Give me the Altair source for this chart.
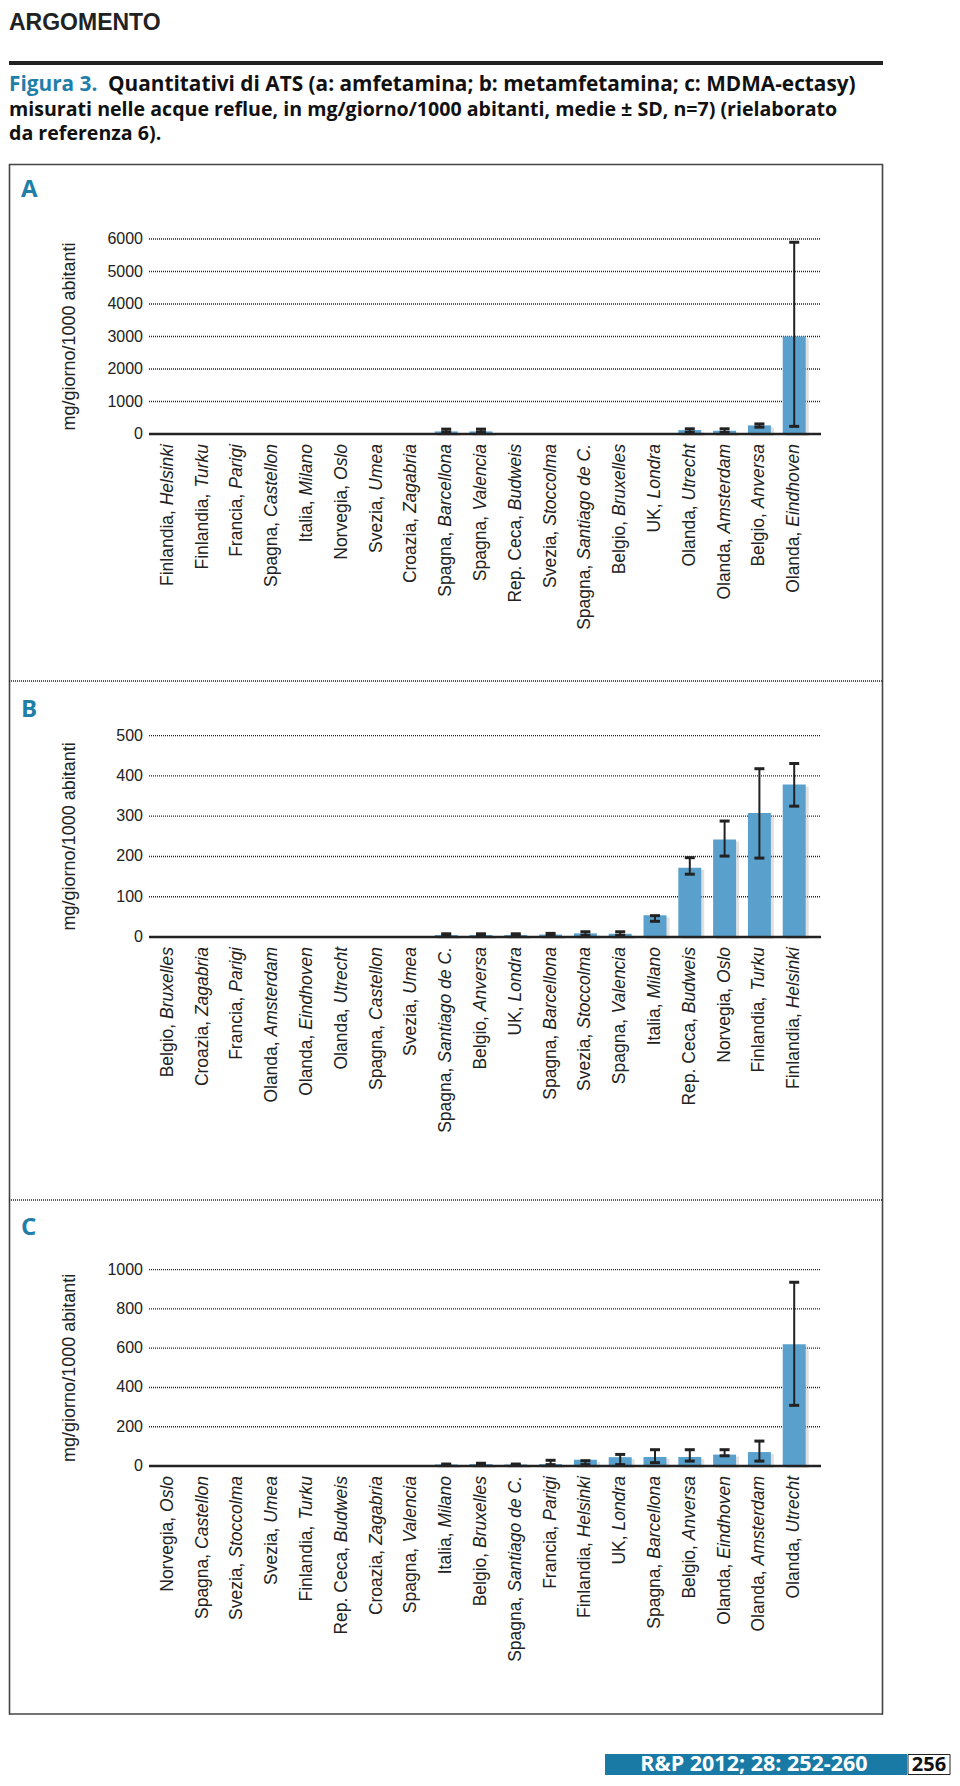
import altair as alt
import pandas as pd

# ---------------- data ----------------
A_COUNTRY = ["Finlandia", "Finlandia", "Francia", "Spagna", "Italia", "Norvegia", "Svezia",
             "Croazia", "Spagna", "Spagna", "Rep. Ceca", "Svezia", "Spagna", "Belgio", "UK",
             "Olanda", "Olanda", "Belgio", "Olanda"]
A_CITY = ["Helsinki", "Turku", "Parigi", "Castellon", "Milano", "Oslo", "Umea", "Zagabria",
          "Barcellona", "Valencia", "Budweis", "Stoccolma", "Santiago de C.", "Bruxelles",
          "Londra", "Utrecht", "Amsterdam", "Anversa", "Eindhoven"]
A_MEAN = [0, 0, 0, 0, 0, 0, 0, 0, 80, 80, 0, 0, 0, 0, 0, 120, 100, 265, 3000]
A_LOW = [0, 0, 0, 0, 0, 0, 0, 0, 60, 60, 0, 0, 0, 0, 0, 50, 50, 210, 235]
A_HIGH = [0, 0, 0, 0, 0, 0, 0, 0, 150, 150, 0, 0, 0, 0, 0, 160, 160, 310, 5900]

B_COUNTRY = ["Belgio", "Croazia", "Francia", "Olanda", "Olanda", "Olanda", "Spagna", "Svezia",
             "Spagna", "Belgio", "UK", "Spagna", "Svezia", "Spagna", "Italia", "Rep. Ceca",
             "Norvegia", "Finlandia", "Finlandia"]
B_CITY = ["Bruxelles", "Zagabria", "Parigi", "Amsterdam", "Eindhoven", "Utrecht", "Castellon",
          "Umea", "Santiago de C.", "Anversa", "Londra", "Barcellona", "Stoccolma", "Valencia",
          "Milano", "Budweis", "Oslo", "Turku", "Helsinki"]
B_MEAN = [0, 0, 0, 0, 0, 0, 0, 0, 5, 5, 5, 6, 9, 8, 54, 172, 242, 308, 379]
B_LOW = [0, 0, 0, 0, 0, 0, 0, 0, 3, 3, 3, 3, 4, 4, 39, 156, 201, 196, 325]
B_HIGH = [0, 0, 0, 0, 0, 0, 0, 0, 8, 8, 8, 9, 13, 13, 53, 197, 288, 418, 431]

C_COUNTRY = ["Norvegia", "Spagna", "Svezia", "Svezia", "Finlandia", "Rep. Ceca", "Croazia",
             "Spagna", "Italia", "Belgio", "Spagna", "Francia", "Finlandia", "UK", "Spagna",
             "Belgio", "Olanda", "Olanda", "Olanda"]
C_CITY = ["Oslo", "Castellon", "Stoccolma", "Umea", "Turku", "Budweis", "Zagabria", "Valencia",
          "Milano", "Bruxelles", "Santiago de C.", "Parigi", "Helsinki", "Londra", "Barcellona",
          "Anversa", "Eindhoven", "Amsterdam", "Utrecht"]
C_MEAN = [0, 0, 0, 0, 0, 0, 0, 0, 8, 10, 8, 10, 32, 45, 46, 46, 58, 71, 620]
C_LOW = [0, 0, 0, 0, 0, 0, 0, 0, 3, 4, 3, 7, 7, 7, 17, 25, 52, 25, 309]
C_HIGH = [0, 0, 0, 0, 0, 0, 0, 0, 10, 14, 10, 29, 27, 59, 83, 83, 83, 127, 936]

Y_TITLE = "mg/giorno/1000 abitanti"

# ---------------- styling / layout ----------------
M = 8
W, H = 944, 1770


def P(v):
    return v - M


FONT = "Liberation Sans, Arial, sans-serif"
HFONT = "Open Sans, Liberation Sans, sans-serif"
TEAL = "#1f7fa8"
BAR = "#5aa0cd"
INK = "#222222"
LFS = 17.5      # category label font size
LAB_GAP = 10    # gap between baseline and labels
X0, X1 = 150.4, 811.6
GX0, GX1 = 149, 821

# Liberation Sans (Arial-compatible) advance widths, units per 2048 em
AW = {' ': 569, ',': 569, '.': 569,
      'A': 1366, 'B': 1366, 'C': 1479, 'D': 1479, 'E': 1366, 'F': 1251, 'G': 1593, 'H': 1479,
      'I': 569, 'J': 1024, 'K': 1366, 'L': 1139, 'M': 1706, 'N': 1479, 'O': 1593, 'P': 1366,
      'Q': 1593, 'R': 1479, 'S': 1366, 'T': 1251, 'U': 1479, 'V': 1366, 'W': 1933, 'X': 1366,
      'Y': 1366, 'Z': 1251,
      'a': 1139, 'b': 1139, 'c': 1024, 'd': 1139, 'e': 1139, 'f': 569, 'g': 1139, 'h': 1139,
      'i': 455, 'j': 455, 'k': 1024, 'l': 455, 'm': 1706, 'n': 1139, 'o': 1139, 'p': 1139,
      'q': 1139, 'r': 682, 's': 1024, 't': 569, 'u': 1139, 'v': 1024, 'w': 1479, 'x': 1024,
      'y': 1024, 'z': 1024}


def text_w(s, fs):
    return sum(AW.get(ch, 1139) for ch in s) / 2048.0 * fs


ONE = pd.DataFrame({"d": [0]})


def txt(text, x, y, size, color=INK, weight="normal", font=HFONT, align="left",
        baseline="alphabetic"):
    return alt.Chart(ONE).mark_text(
        text=text, align=align, baseline=baseline, fontSize=size, fontWeight=weight,
        font=font, color=color
    ).encode(x=alt.value(P(x)), y=alt.value(P(y)))


def hline(x1, x2, y, width, color, dash=None):
    kw = dict(color=color, strokeWidth=width)
    if dash:
        kw["strokeDash"] = dash
    return alt.Chart(ONE).mark_rule(**kw).encode(
        x=alt.value(P(x1)), x2=alt.value(P(x2)), y=alt.value(P(y)))


def vline(x, y1, y2, width, color):
    return alt.Chart(ONE).mark_rule(color=color, strokeWidth=width).encode(
        x=alt.value(P(x)), y=alt.value(P(y1)), y2=alt.value(P(y2)))


def panel(country, city, mean, low, high, ymax, step, y0, y1):
    keys = [f"{c}, {t}" for c, t in zip(country, city)]
    lab_y = P(y0 + LAB_GAP)
    df = pd.DataFrame({
        "key": keys,
        "country": [c + "," for c in country],
        "city": city,
        "mean": mean, "lo": low, "hi": high,
        "ly": [lab_y + text_w(t, LFS) + text_w(" ", LFS) for t in city],
    })
    xs = alt.Scale(domain=keys, range=[P(X0), P(X1)], paddingInner=0.34, paddingOuter=0.17)
    ys = alt.Scale(domain=[0, ymax], range=[P(y0), P(y1)], nice=False, zero=True)
    X = alt.X("key:N", scale=xs, axis=None, sort=None)
    ticks = list(range(0, ymax + 1, step))
    tdf = pd.DataFrame({"t": ticks, "lbl": [str(t) for t in ticks]})
    base = alt.Chart(df)

    grid = alt.Chart(tdf).transform_filter("datum.t > 0").mark_rule(
        color="#222222", strokeWidth=1.3, strokeDash=[1, 1]
    ).encode(y=alt.Y("t:Q", scale=ys, axis=None),
             x=alt.value(P(GX0)), x2=alt.value(P(GX1)))
    shadow = base.transform_filter("datum.mean > 0").mark_bar(
        color="#9a9a9a", opacity=0.3, xOffset=3, yOffset=2
    ).encode(x=X, y=alt.Y("mean:Q", scale=ys, axis=None))
    bars = base.transform_filter("datum.mean > 0").mark_bar(color=BAR).encode(
        x=X, y=alt.Y("mean:Q", scale=ys, axis=None))
    err = base.transform_filter("datum.hi > 0").mark_rule(color=INK, strokeWidth=2).encode(
        x=X, y=alt.Y("lo:Q", scale=ys, axis=None), y2="hi:Q")
    cap_hi = base.transform_filter("datum.hi > 0").mark_tick(
        color=INK, thickness=3, size=10, opacity=1).encode(
        x=X, y=alt.Y("hi:Q", scale=ys, axis=None))
    cap_lo = base.transform_filter("datum.hi > 0").mark_tick(
        color=INK, thickness=3, size=10, opacity=1).encode(
        x=X, y=alt.Y("lo:Q", scale=ys, axis=None))
    zero = alt.Chart(pd.DataFrame({"z": [0]})).mark_rule(color=INK, strokeWidth=2.5).encode(
        y=alt.Y("z:Q", scale=ys, axis=None), x=alt.value(P(GX0)), x2=alt.value(P(GX1)))
    tlab = alt.Chart(tdf).mark_text(
        align="right", baseline="middle", fontSize=16, font=FONT, color=INK
    ).encode(y=alt.Y("t:Q", scale=ys, axis=None), x=alt.value(P(143)), text="lbl:N")
    title = alt.Chart(pd.DataFrame({"mid": [ymax / 2]})).mark_text(
        text=Y_TITLE, angle=270, align="center", baseline="middle", fontSize=18,
        font=FONT, color=INK
    ).encode(y=alt.Y("mid:Q", scale=ys, axis=None), x=alt.value(P(70)))
    lab_city = base.mark_text(
        angle=270, align="right", baseline="middle", fontSize=LFS, font=FONT,
        fontStyle="italic", color=INK
    ).encode(x=X, y=alt.value(lab_y), text="city:N")
    lab_country = base.mark_text(
        angle=270, align="right", baseline="middle", fontSize=LFS, font=FONT, color=INK
    ).encode(x=X, y=alt.Y("ly:Q", scale=None, axis=None), text="country:N")
    return [grid, shadow, bars, err, cap_hi, cap_lo, zero, tlab, title, lab_city, lab_country]


layers = []
# header
layers.append(txt("ARGOMENTO", 9, 11.5, 23, weight="bold", color="#222222",
                  baseline="top", font=FONT))
layers.append(hline(9, 883, 63, 4, "#222222"))
layers.append(txt("Figura 3.", 9, 91, 20.8, color=TEAL, weight="bold"))
layers.append(txt("Quantitativi di ATS (a: amfetamina; b: metamfetamina; c: MDMA-ectasy)",
                  108, 91, 20.8, color="#111111", weight="bold"))
layers.append(txt("misurati nelle acque reflue, in mg/giorno/1000 abitanti, medie ± SD, n=7) (rielaborato",
                  9, 115.5, 19.6, color="#111111", weight="bold"))
layers.append(txt("da referenza 6).", 9, 140, 19.6, color="#111111", weight="bold"))

# frame and separators
layers.append(hline(9, 883, 164.5, 1.6, "#444444"))
layers.append(hline(9, 883, 1714, 1.6, "#444444"))
layers.append(vline(9.5, 164, 1714.5, 1.6, "#444444"))
layers.append(vline(882.5, 164, 1714.5, 1.6, "#444444"))
layers.append(hline(9, 883, 681, 1.3, "#222222", dash=[1, 1]))
layers.append(hline(9, 883, 1200, 1.3, "#222222", dash=[1, 1]))

# panel letters
layers.append(txt("A", 21, 197, 24, color=TEAL, weight="bold"))
layers.append(txt("B", 21, 717, 24, color=TEAL, weight="bold"))
layers.append(txt("C", 21, 1235, 24, color=TEAL, weight="bold"))

# panels
layers += panel(A_COUNTRY, A_CITY, A_MEAN, A_LOW, A_HIGH, 6000, 1000, 434, 239)
layers += panel(B_COUNTRY, B_CITY, B_MEAN, B_LOW, B_HIGH, 500, 100, 937, 735.7)
layers += panel(C_COUNTRY, C_CITY, C_MEAN, C_LOW, C_HIGH, 1000, 200, 1466, 1269.7)

# footer
layers.append(alt.Chart(ONE).mark_rect(color="#1a7aa6").encode(
    x=alt.value(P(605)), x2=alt.value(P(907)), y=alt.value(P(1754)), y2=alt.value(P(1775))))
layers.append(alt.Chart(ONE).mark_rect(fill="white", stroke="#222222", strokeWidth=1).encode(
    x=alt.value(P(908)), x2=alt.value(P(950)), y=alt.value(P(1754.5)), y2=alt.value(P(1774.5))))
layers.append(txt("R&P 2012; 28: 252-260", 754, 1765, 21.5, color="white", weight="bold",
                  align="center", baseline="middle"))
layers.append(txt("256", 929, 1765, 20, color="#111111", weight="bold",
                  align="center", baseline="middle"))

chart = alt.layer(*layers).resolve_scale(
    x="independent", y="independent"
).properties(
    width=W, height=H, padding=0,
    autosize=alt.AutoSizeParams(type="none"),
    background="white",
).configure_view(stroke=None)

chart.save("out.html", embed_options={"renderer": "svg", "actions": False})
